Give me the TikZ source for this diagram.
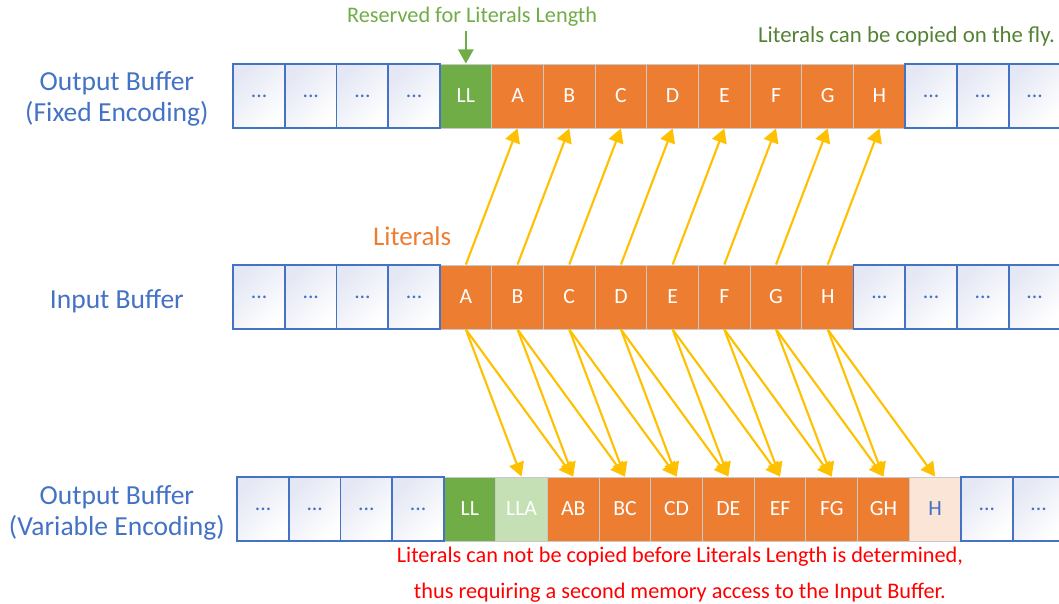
\documentclass[tikz,border=0pt]{standalone}
\usepackage{fontspec}
\setmainfont{Carlito}
\usetikzlibrary{arrows.meta}

\definecolor{bufblue}{HTML}{4472C4}
\definecolor{litorange}{HTML}{ED7D31}
\definecolor{llgreen}{HTML}{70AD47}
\definecolor{llalight}{HTML}{C5E0B4}
\definecolor{hpeach}{HTML}{FBE5D6}
\definecolor{copyyellow}{HTML}{FFC000}
\definecolor{flygreen}{HTML}{548235}
\definecolor{cellgray}{HTML}{C9C9C9}
\definecolor{dotshade}{HTML}{E4E7F4}

\begin{document}
\begin{tikzpicture}[x=1.551cm, y=1.551cm]
	\tikzstyle{Node} = [rectangle, minimum width=1.551cm, minimum height=1.92cm, inner sep=0pt, text centered, font=\fontsize{18.5}{18.5}\selectfont]
	\tikzstyle{Dots} = [Node, draw=bufblue, line width=1.5pt, top color=dotshade, bottom color=white, shading angle=45, text=bufblue]
	\tikzstyle{Lit} = [Node, draw=cellgray, line width=0.8pt, fill=litorange, text=white]
	\tikzstyle{Label} = [align=center, text=bufblue, font=\fontsize{23.5}{26.5}\selectfont]
	\tikzstyle{arrow} = [line width=1.8pt, draw=copyyellow, -{Triangle[length=12pt,width=13pt,fill=copyyellow]}]
	
	\useasboundingbox (-8.511, -5.919) rectangle (11.973, 5.745);
	
	% output buffer, fixed encoding
	\node (topLL) [Node, draw=cellgray, line width=0.8pt, fill=llgreen, text=white] at (0.5,3.888) {LL};
	\node (topA) [Lit] at (1.5,3.888) {A};
	\node (topB) [Lit] at (2.5,3.888) {B};
	\node (topC) [Lit] at (3.5,3.888) {C};
	\node (topD) [Lit] at (4.5,3.888) {D};
	\node (topE) [Lit] at (5.5,3.888) {E};
	\node (topF) [Lit] at (6.5,3.888) {F};
	\node (topG) [Lit] at (7.5,3.888) {G};
	\node (topH) [Lit] at (8.5,3.888) {H};
	\node (topd1) [Dots] at (-3.5,3.888) {...};
	\node (topd2) [Dots] at (-2.5,3.888) {...};
	\node (topd3) [Dots] at (-1.5,3.888) {...};
	\node (topd4) [Dots] at (-0.5,3.888) {...};
	\node (topd5) [Dots] at (9.5,3.888) {...};
	\node (topd6) [Dots] at (10.5,3.888) {...};
	\node (topd7) [Dots] at (11.5,3.888) {...};
	
	% input buffer
	\node (inA) [Lit] at (0.5,0) {A};
	\node (inB) [Lit] at (1.5,0) {B};
	\node (inC) [Lit] at (2.5,0) {C};
	\node (inD) [Lit] at (3.5,0) {D};
	\node (inE) [Lit] at (4.5,0) {E};
	\node (inF) [Lit] at (5.5,0) {F};
	\node (inG) [Lit] at (6.5,0) {G};
	\node (inH) [Lit] at (7.5,0) {H};
	\node (ind1) [Dots] at (-3.5,0) {...};
	\node (ind2) [Dots] at (-2.5,0) {...};
	\node (ind3) [Dots] at (-1.5,0) {...};
	\node (ind4) [Dots] at (-0.5,0) {...};
	\node (ind5) [Dots] at (8.5,0) {...};
	\node (ind6) [Dots] at (9.5,0) {...};
	\node (ind7) [Dots] at (10.5,0) {...};
	\node (ind8) [Dots] at (11.5,0) {...};
	
	% output buffer, variable encoding
	\node (varLL) [Node, draw=cellgray, line width=0.8pt, fill=llgreen, text=white] at (0.577,-4.101) {LL};
	\node (varLLA) [Node, draw=cellgray, line width=0.8pt, fill=llalight, text=white] at (1.577,-4.101) {LLA};
	\node (varAB) [Lit] at (2.577,-4.101) {AB};
	\node (varBC) [Lit] at (3.577,-4.101) {BC};
	\node (varCD) [Lit] at (4.577,-4.101) {CD};
	\node (varDE) [Lit] at (5.577,-4.101) {DE};
	\node (varEF) [Lit] at (6.577,-4.101) {EF};
	\node (varFG) [Lit] at (7.577,-4.101) {FG};
	\node (varGH) [Lit] at (8.577,-4.101) {GH};
	\node (varH) [Node, draw=cellgray, line width=0.8pt, fill=hpeach, text=bufblue] at (9.577,-4.101) {H};
	\node (vard1) [Dots] at (-3.423,-4.101) {...};
	\node (vard2) [Dots] at (-2.423,-4.101) {...};
	\node (vard3) [Dots] at (-1.423,-4.101) {...};
	\node (vard4) [Dots] at (-0.423,-4.101) {...};
	\node (vard5) [Dots] at (10.577,-4.101) {...};
	\node (vard6) [Dots] at (11.577,-4.101) {...};
	
	% buffer names and notes
	\node (fixname) [Label] at (-6.25,3.83) {Output Buffer\\(Fixed Encoding)};
	\node (inname) [Label] at (-6.25,-0.09) {Input Buffer};
	\node (varname) [Label] at (-6.25,-4.17) {Output Buffer\\(Variable Encoding)};
	\node (lits) [text=litorange, font=\fontsize{23}{23}\selectfont] at (-0.54,1.17) {Literals};
	\node (resv) [text=llgreen, font=\fontsize{19}{19}\selectfont] at (0.62,5.42) {Reserved for Literals Length};
	\node (fly) [anchor=east, inner sep=0pt, text=flygreen, font=\fontsize{19.5}{19.5}\selectfont] at (11.9,5.05) {Literals can be copied on the fly.};
	\node (note) [align=center, text=red, font=\fontsize{19}{31.5}\selectfont] at (4.64,-5.37) {Literals can not be copied before Literals Length is determined,\\thus requiring a second memory access to the Input Buffer.};
	
	\draw [line width=1.8pt, draw=llgreen, -{Triangle[length=12pt,width=13pt,fill=llgreen]}] (resv.south -| topLL.north) -- (topLL.north);
	
	% copy on the fly
	\draw [arrow] (inA.north) -- (topA.south);
	\draw [arrow] (inB.north) -- (topB.south);
	\draw [arrow] (inC.north) -- (topC.south);
	\draw [arrow] (inD.north) -- (topD.south);
	\draw [arrow] (inE.north) -- (topE.south);
	\draw [arrow] (inF.north) -- (topF.south);
	\draw [arrow] (inG.north) -- (topG.south);
	\draw [arrow] (inH.north) -- (topH.south);
	
	% second access
	\draw [arrow] (inA.south) -- (varLLA.north);
	\draw [arrow] (inA.south) -- (varAB.north);
	\draw [arrow] (inB.south) -- (varAB.north);
	\draw [arrow] (inB.south) -- (varBC.north);
	\draw [arrow] (inC.south) -- (varBC.north);
	\draw [arrow] (inC.south) -- (varCD.north);
	\draw [arrow] (inD.south) -- (varCD.north);
	\draw [arrow] (inD.south) -- (varDE.north);
	\draw [arrow] (inE.south) -- (varDE.north);
	\draw [arrow] (inE.south) -- (varEF.north);
	\draw [arrow] (inF.south) -- (varEF.north);
	\draw [arrow] (inF.south) -- (varFG.north);
	\draw [arrow] (inG.south) -- (varFG.north);
	\draw [arrow] (inG.south) -- (varGH.north);
	\draw [arrow] (inH.south) -- (varGH.north);
	\draw [arrow] (inH.south) -- (varH.north);
\end{tikzpicture}
\end{document}
